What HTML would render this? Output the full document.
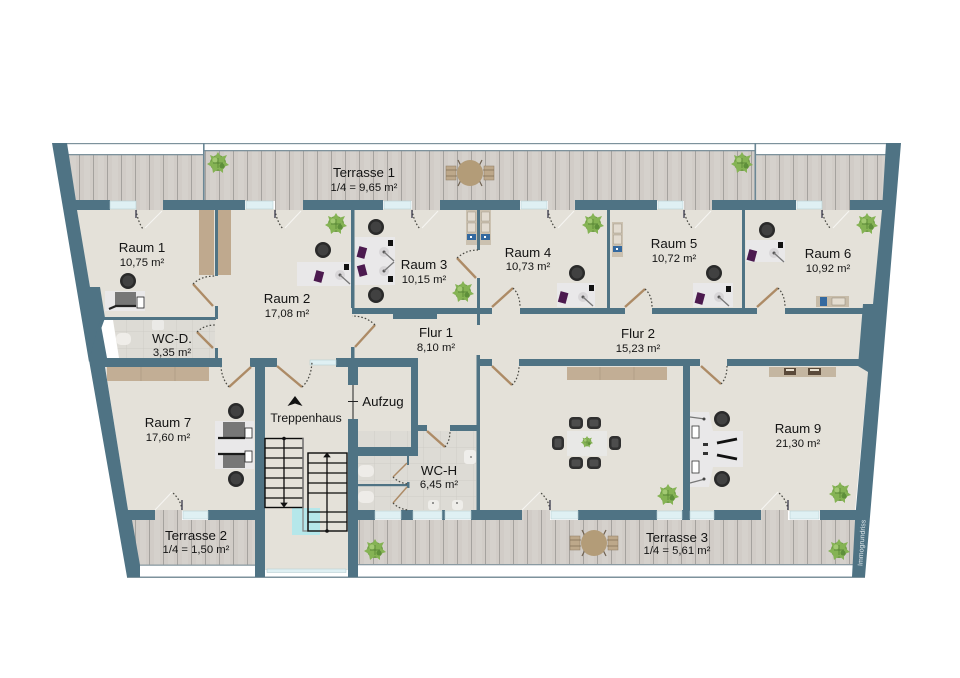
<!DOCTYPE html>
<html><head><meta charset="utf-8"><style>
html,body{margin:0;padding:0;background:#fff;width:960px;height:678px;overflow:hidden}
svg{display:block;filter:blur(.35px)}
text{font-family:"Liberation Sans",sans-serif;fill:#141414;text-anchor:middle}
.t{font-size:13.3px}.a{font-size:11.3px}
.w{fill:#4f7384}
.g{fill:#dff0f3;stroke:#b7cfd3;stroke-width:.6}
.d{stroke:#ad8b66;stroke-width:2.4;fill:none}
.e{stroke:#f6f5f2;stroke-width:1.1;fill:none}
.o{stroke:#45453f;stroke-width:1.2;stroke-dasharray:1.6 2;fill:none}
.s{stroke:#0c0c0c;stroke-width:1.3;fill:none}
</style></head><body>
<svg width="960" height="678" viewBox="0 0 960 678" xmlns="http://www.w3.org/2000/svg">
<defs>
<pattern id="pl" width="14" height="10" patternUnits="userSpaceOnUse" x="66" y="0">
<rect width="14" height="10" fill="#d1ccc7"/><rect x="4" width="6" height="10" fill="#d5d1cc"/><rect x="13" width="1" height="10" fill="#a5a29e"/>
</pattern>
<pattern id="ti" width="16.5" height="16.5" patternUnits="userSpaceOnUse" x="358" y="431">
<rect width="16.5" height="16.5" fill="#dddbd5"/><path d="M16.5 0V16.5H0" fill="none" stroke="#cbc9c3" stroke-width=".7"/>
</pattern>
<symbol id="plant" viewBox="-10 -10 20 20" width="20" height="20" overflow="visible">
<circle r="8" fill="#6f9d45"/><path d="M0-11 3-6 9-8 6-2 11 2 5 4 5 10 0 6-5 10-6 4-11 1-6-2-8-8-3-6Z" fill="#85b354"/><circle cx="-3" cy="-3" r="2.500" fill="#a2c972"/><circle cx="4" cy="3" r="2.500" fill="#5e8f3a"/><path d="M-5 0H5M0-5V5" stroke="#4f7c30" stroke-width=".7"/>
</symbol>
<symbol id="chair" viewBox="-9 -9 18 18" width="18" height="18" overflow="visible">
<circle r="8" fill="#2a2a2a"/><circle r="5.500" fill="#414141"/>
</symbol>
<symbol id="table" viewBox="-25 -15 50 30" width="50" height="30" overflow="visible">
<rect x="-24" y="-7" width="10" height="14" fill="#bda88a" stroke="#8d7a60" stroke-width=".5"/><rect x="14" y="-7" width="10" height="14" fill="#bda88a" stroke="#8d7a60" stroke-width=".5"/>
<path d="M-24-3H-13M-24 3H-13M13-3H24M13 3H24" stroke="#806d54" stroke-width=".8"/>
<path d="M-12-13-8-5M12-13 8-5M-12 13-8 5M12 13 8 5" stroke="#6f6150" stroke-width="1.2"/>
<circle r="13" fill="#b39c78"/>
</symbol>
<symbol id="lamp" viewBox="0 0 16 14" width="16" height="14" overflow="visible">
<circle cx="3" cy="3" r="5" fill="#d8d6d8"/><circle cx="3" cy="3" r="1.5" fill="#555"/><path d="M3 3 13 12" stroke="#777" stroke-width="1.3"/>
</symbol>
<symbol id="shelf" viewBox="0 0 11 35" width="11" height="35" overflow="visible">
<rect width="11" height="35" fill="#cbc1b0"/><rect x="1.5" y="2" width="8" height="9" fill="#e2dbd0" stroke="#a49a88" stroke-width=".5"/><rect x="1.5" y="13" width="8" height="9" fill="#e2dbd0" stroke="#a49a88" stroke-width=".5"/><rect x="1" y="24" width="9" height="6" fill="#34699f"/><rect x="4" y="26" width="2" height="2" fill="#fff"/>
</symbol>
<symbol id="chr" viewBox="-8 -7 16 14" width="16" height="14" overflow="visible">
<rect x="-7" y="-6" width="14" height="12" rx="4" fill="#303030"/><rect x="-4.5" y="-3.5" width="9" height="7" rx="2" fill="#4d4d4d"/>
</symbol>
</defs>

<rect width="960" height="678" fill="#fff"/>

<rect x="67" y="143" width="820" height="1.2" fill="#7d929c"/>
<rect x="127" y="576.5" width="738" height="1.5" fill="#7d929c"/>
<rect x="68" y="155" width="135" height="46" fill="url(#pl)"/>
<rect x="204" y="151" width="551" height="50" fill="url(#pl)"/>
<rect x="756" y="155" width="130" height="46" fill="url(#pl)"/>
<rect x="68" y="154" width="135" height="1.3" fill="#7d929c"/>
<rect x="204" y="150" width="551" height="1.3" fill="#7d929c"/>
<rect x="756" y="154" width="130" height="1.3" fill="#7d929c"/>
<rect x="203" y="143" width="1.6" height="58" fill="#6b8795"/>
<rect x="754.5" y="143" width="1.6" height="58" fill="#6b8795"/>
<rect x="132" y="520" width="123" height="45" fill="url(#pl)"/>
<rect x="358" y="520" width="497" height="44.5" fill="url(#pl)"/>
<rect x="132" y="564.5" width="123" height="1.3" fill="#8a9aa2"/>
<rect x="358" y="564" width="497" height="1.3" fill="#8a9aa2"/>

<polygon points="76,209 883,209 873,304 863,304 859,366 868,372 855,511 128,511 105,366 104,320 100,290 90,287" fill="#e4e1d9"/>
<rect x="265" y="366" width="83" height="204" fill="#e4e1d9"/>
<polygon points="113,320 215,320 215,358 119,358" fill="url(#ti)"/>
<rect x="358" y="431" width="118" height="79" fill="url(#ti)"/>
<polygon points="100,320 113,320 119,358 106,358" fill="#fff"/>

<g fill="url(#pl)">
<rect x="136" y="200" width="27" height="10"/><rect x="275" y="200" width="28" height="10"/><rect x="412" y="200" width="28" height="10"/><rect x="548" y="200" width="27" height="10"/><rect x="684" y="200" width="28" height="10"/><rect x="822" y="200" width="28" height="10"/>
<rect x="155" y="510" width="27" height="10"/><rect x="522" y="510" width="28" height="10"/><rect x="761" y="510" width="27" height="10"/>
</g>

<polygon class="w" points="52,143 67,143 76,201 77,210 90,287 100,287 105,318 89,362 52,143" />
<polygon class="w" points="89,360 100,320 107,358 105,367 128,510 132,520 140,565 140,577 127,577"/>
<polygon class="w" points="901,143 886,143 882,210 873,304 863,304 858,366 868,372 855,520 852,577 865,577"/>

<g class="w">
<rect x="74" y="200" width="36" height="10"/><rect x="163" y="200" width="82" height="10"/><rect x="303" y="200" width="80" height="10"/><rect x="440" y="200" width="80" height="10"/><rect x="575" y="200" width="82" height="10"/><rect x="712" y="200" width="84" height="10"/><rect x="850" y="200" width="34" height="10"/>
<rect x="215" y="210" width="3" height="66"/><rect x="215" y="306" width="3" height="13"/><rect x="215" y="348" width="3" height="11"/>
<rect x="351" y="210" width="3.5" height="98"/><rect x="351" y="347" width="3.5" height="12"/>
<rect x="477" y="210" width="3" height="40"/><rect x="477" y="278" width="3" height="47"/>
<rect x="607" y="210" width="3" height="98"/><rect x="742" y="210" width="3" height="98"/>
<rect x="352" y="308" width="140" height="6"/><rect x="393" y="314" width="44" height="5"/>
<rect x="520" y="308" width="105" height="6"/><rect x="652" y="308" width="105" height="6"/><rect x="785" y="308" width="78" height="6"/>
<rect x="103" y="317" width="113" height="3"/>
<rect x="105" y="358" width="117" height="9"/><rect x="250" y="358" width="27" height="9"/><rect x="336" y="358" width="82" height="9"/>
<rect x="479" y="359" width="13" height="7"/><rect x="519" y="359" width="181" height="7"/><rect x="727" y="359" width="132" height="7"/>
<rect x="255" y="358" width="10" height="219"/><rect x="348" y="358" width="10" height="27"/><rect x="348" y="419" width="10" height="158"/>
<rect x="411" y="358" width="7" height="98"/><rect x="348" y="447" width="70" height="9"/>
<rect x="411" y="425" width="16" height="6"/><rect x="450" y="425" width="28" height="6"/>
<rect x="476.500" y="355" width="3.500" height="155"/>
<rect x="358" y="484" width="50" height="2.200"/><rect x="407" y="456" width="2" height="9"/><rect x="407" y="482" width="2.500" height="6"/>
<rect x="683" y="366" width="7" height="144"/>
<rect x="128" y="510" width="27" height="10"/><rect x="208" y="510" width="47" height="10"/>
<rect x="358" y="510" width="17" height="10"/><rect x="401" y="510" width="12" height="10"/><rect x="442" y="510" width="3" height="10"/><rect x="471" y="510" width="51" height="10"/>
<rect x="578" y="510" width="79" height="10"/><rect x="682" y="510" width="8" height="10"/><rect x="714" y="510" width="47" height="10"/><rect x="820" y="510" width="36" height="10"/>
</g>
<g class="g">
<rect x="110" y="201" width="26" height="8"/><rect x="246" y="201" width="27" height="8"/><rect x="384" y="201" width="27" height="8"/><rect x="521" y="201" width="26" height="8"/><rect x="658" y="201" width="25" height="8"/><rect x="797" y="201" width="25" height="8"/>
<rect x="310" y="360" width="26" height="5"/>
<rect x="183" y="511" width="25" height="8"/><rect x="375" y="511" width="26" height="8"/><rect x="413" y="511" width="29" height="8"/><rect x="445" y="511" width="26" height="8"/><rect x="551" y="511" width="27" height="8"/><rect x="657" y="511" width="25" height="8"/><rect x="690" y="511" width="24" height="8"/><rect x="790" y="511" width="29" height="8"/>
<rect x="267" y="569" width="79" height="3.500"/>
</g>

<g class="d">
<path d="M213 306 193 284"/><path d="M213 348 197 332"/><path d="M476 278 457 258"/><path d="M355 347 375 325"/><path d="M492 307 513 288"/><path d="M625 307 645 289"/><path d="M757 307 778 288"/><path d="M251 367 229 387"/><path d="M277 366 302 387"/><path d="M492 366 512 385"/><path d="M701 366 721 384"/><path d="M427 431 445 447"/><path d="M407 463 393 477" stroke-width="1.500"/><path d="M407 487 393 503" stroke-width="1.500"/>
</g>
<g class="o">
<path d="M193 284Q201 276 215 276"/><path d="M197 332Q204 325 215 325"/><path d="M457 258Q466 250 478 250"/><path d="M375 325Q366 316 352 316"/><path d="M513 288Q520 295 520 307"/><path d="M645 289Q652 295 652 307"/><path d="M778 288Q785 295 785 307"/><path d="M229 387Q222 379 221 367"/><path d="M302 387Q311 379 312 362"/><path d="M512 385Q519 378 519 366"/><path d="M721 384Q727 378 727 366"/><path d="M445 447Q450 441 450 431"/><path d="M393 477Q399 483 408 484"/><path d="M393 503Q399 509 408 510"/>
<path d="M136 210Q138 222 143 229"/><path d="M275 210Q277 222 283 229"/><path d="M412 210Q414 222 420 229"/><path d="M548 210Q550 222 556 229"/><path d="M684 210Q686 222 693 229"/><path d="M822 210Q824 222 831 229"/>
<path d="M182 510Q181 500 172 492"/><path d="M550 510Q549 500 540 492"/><path d="M788 510Q787 500 778 492"/>
</g>
<g class="e">
<path d="M162 211 145 228"/><path d="M301 211 285 228"/><path d="M438 211 422 228"/><path d="M574 211 558 228"/><path d="M711 211 695 228"/><path d="M849 211 833 228"/>
<path d="M155 510 172 492"/><path d="M522 510 540 492"/><path d="M761 510 778 492"/>
</g>
<g stroke="#445" stroke-width="1.400"><path d="M136 210V218M275 210V218M412 210V218M548 210V218M684 210V218M822 210V218M182 500V510M550 500V510M788 500V510"/></g>

<rect x="199" y="210" width="15" height="65" fill="#bfa98e"/><rect x="218" y="210" width="13" height="65" fill="#bfa98e"/>
<rect x="107" y="367" width="102" height="14" fill="#c2ae95"/><path d="M141 367V381M175 367V381" stroke="#ac9a82" stroke-width=".7"/>
<rect x="567" y="367" width="100" height="13" fill="#c2ae95"/><path d="M600 367V380M634 367V380" stroke="#ac9a82" stroke-width=".7"/>
<rect x="769" y="367" width="67" height="10" fill="#c4b6a1"/>
<rect x="784" y="368" width="12" height="7" fill="#5a4a3a"/><rect x="808" y="368" width="13" height="7" fill="#5a4a3a"/><rect x="786" y="369" width="8" height="2" fill="#e8e0d0"/><rect x="810" y="369" width="9" height="2" fill="#e8e0d0"/>
<use href="#shelf" x="466" y="210"/><use href="#shelf" x="480" y="210"/><use href="#shelf" x="612" y="222"/>
<rect x="816" y="296" width="33" height="11" fill="#c7bca9"/><rect x="820" y="297" width="7" height="9" fill="#34699f"/><rect x="832" y="298" width="13" height="7" fill="#e4ddd0" stroke="#8f8678" stroke-width=".5"/>

<g fill="#e9e8e9">
<rect x="105" y="291" width="40" height="20"/><rect x="297" y="262" width="54" height="24"/><rect x="355" y="237" width="40" height="48"/><rect x="557" y="283" width="38" height="24"/><rect x="693" y="283" width="40" height="24"/><rect x="746" y="240" width="39" height="22"/>
<rect x="215" y="421" width="39" height="48"/>
<path d="M690 412H709L713 431H743V467H713L709 487H690Z"/>
<rect x="567" y="431" width="40" height="25" fill="#e8e8e6"/>
</g>
<rect x="115" y="292" width="21" height="14" fill="#777"/><rect x="137" y="297" width="7" height="11" fill="#fff" stroke="#222" stroke-width=".8"/><path d="M109 309 116 306 136 306" stroke="#222" stroke-width="2.200" fill="none"/>
<g fill="#4c1a4f">
<rect x="315" y="271" width="8" height="11" transform="rotate(15 319 276)"/><rect x="358" y="247" width="8" height="11" transform="rotate(15 362 252)"/><rect x="358" y="265" width="8" height="11" transform="rotate(-15 362 270)"/><rect x="559" y="292" width="8" height="11" transform="rotate(15 563 298)"/><rect x="696" y="293" width="8" height="11" transform="rotate(15 700 298)"/><rect x="748" y="250" width="8" height="11" transform="rotate(15 752 255)"/>
</g>
<g fill="#111"><rect x="344" y="264" width="5" height="6"/><rect x="388" y="240" width="5" height="6"/><rect x="388" y="276" width="5" height="6"/><rect x="589" y="285" width="5" height="6"/><rect x="726" y="286" width="5" height="6"/><rect x="778" y="242" width="5" height="6"/></g>
<use href="#lamp" x="337" y="272"/><use href="#lamp" x="580" y="294"/><use href="#lamp" x="716" y="294"/><use href="#lamp" x="771" y="250"/><use href="#lamp" x="381" y="249"/>
<g transform="translate(381 274) scale(1 -1)"><use href="#lamp"/></g>
<rect x="223" y="422" width="22" height="16" fill="#777"/><rect x="223" y="453" width="22" height="15" fill="#777"/><rect x="245" y="428" width="7" height="10" fill="#fff" stroke="#222" stroke-width=".8"/><rect x="245" y="451" width="7" height="11" fill="#fff" stroke="#222" stroke-width=".8"/>
<path d="M218 438H245M218 454H245" stroke="#1a1a1a" stroke-width="2.200"/>
<rect x="692" y="426" width="7" height="12" fill="#fff" stroke="#333" stroke-width=".8"/><rect x="692" y="461" width="7" height="12" fill="#fff" stroke="#333" stroke-width=".8"/>
<path d="M717 443 737 439M717 455 737 459" stroke="#111" stroke-width="2.800"/><rect x="703" y="443" width="5" height="3" fill="#333"/><rect x="703" y="452" width="5" height="3" fill="#333"/>
<path d="M690 417 705 419M690 483 705 479" stroke="#777" stroke-width="1.200"/><circle cx="704" cy="419" r="1.500" fill="#444"/><circle cx="704" cy="479" r="1.500" fill="#444"/>

<use href="#chair" x="119" y="272"/><use href="#chair" x="314" y="241"/><use href="#chair" x="367" y="218"/><use href="#chair" x="367" y="286"/><use href="#chair" x="568" y="264"/><use href="#chair" x="705" y="264"/><use href="#chair" x="758" y="221"/><use href="#chair" x="227" y="402"/><use href="#chair" x="227" y="470"/><use href="#chair" x="713" y="410"/><use href="#chair" x="713" y="470"/>
<use href="#chr" x="568" y="416"/><use href="#chr" x="586" y="416"/><use href="#chr" x="568" y="456"/><use href="#chr" x="586" y="456"/><use href="#chr" transform="rotate(90 558 443)" x="550" y="436"/><use href="#chr" transform="rotate(90 615 443)" x="607" y="436"/>
<use href="#plant" x="208" y="153"/><use href="#plant" x="732" y="153"/><use href="#plant" x="326" y="214"/><use href="#plant" x="453" y="282"/><use href="#plant" x="583" y="214"/><use href="#plant" x="857" y="214"/><use href="#plant" x="658" y="485"/><use href="#plant" x="830" y="483"/><use href="#plant" x="365" y="540"/><use href="#plant" x="829" y="540"/>
<g transform="translate(587 442) scale(.55)"><use href="#plant" x="-10" y="-10"/></g>
<use href="#table" x="445" y="158"/><use href="#table" x="569" y="528"/>

<rect x="116" y="333" width="15" height="12" rx="5" fill="#efede9"/><rect x="152" y="320" width="12" height="10" rx="2" fill="#ebeae7"/>
<rect x="358" y="465" width="16" height="12" rx="5" fill="#eeece8"/><rect x="358" y="491" width="16" height="12" rx="5" fill="#eeece8"/>
<rect x="464" y="450" width="12" height="14" rx="3" fill="#efeeeb"/><circle cx="471" cy="457" r="1" fill="#888"/>
<rect x="428" y="500" width="11" height="10" rx="3" fill="#eeede9"/><rect x="452" y="500" width="11" height="10" rx="3" fill="#eeede9"/><circle cx="433" cy="503" r="1" fill="#777"/><circle cx="457" cy="503" r="1" fill="#777"/>

<rect x="292" y="508" width="28" height="27" fill="#a9e9ee" opacity=".8"/>
<g class="s">
<rect x="265" y="438.500" width="38" height="69" stroke-width="1.400"/>
<path d="M265 448H303M265 458H303M265 468H303M265 478H303M265 488H303M265 498H303"/>
<path d="M303 438V531H308M308 453V531" stroke="#888"/>
<rect x="308" y="453" width="39" height="78" stroke-width="1.400"/>
<path d="M308 463H347M308 473H347M308 483H347M308 493H347M308 512H347M308 522H347"/>
<path d="M284 438V503M327 531V456" stroke-width="1.300"/>
</g>
<circle cx="284" cy="438.500" r="1.800" fill="#111"/><circle cx="327" cy="531" r="1.800" fill="#111"/>
<polygon points="281,503 287,503 284,507" fill="#111" stroke="#111" stroke-width=".8"/><polygon points="324,457 330,457 327,453" fill="#111" stroke="#111" stroke-width=".8"/>
<polygon points="295,396 287.500,406 295,403.500 302.500,406" fill="#111"/>
<path d="M353 385V419" stroke="#222" stroke-width="1"/><path d="M348 401.500H358" stroke="#222" stroke-width="1"/>

<text class="t" x="142" y="252">Raum 1</text><text class="a" x="142" y="266">10,75 m²</text>
<text class="t" x="287" y="303">Raum 2</text><text class="a" x="287" y="317">17,08 m²</text>
<text class="t" x="172" y="343">WC-D.</text><text class="a" x="172" y="356">3,35 m²</text>
<text class="t" x="364" y="177">Terrasse 1</text><text class="a" x="364" y="191">1/4 = 9,65 m²</text>
<text class="t" x="424" y="269">Raum 3</text><text class="a" x="424" y="283">10,15 m²</text>
<text class="t" x="528" y="257">Raum 4</text><text class="a" x="528" y="270">10,73 m²</text>
<text class="t" x="674" y="248">Raum 5</text><text class="a" x="674" y="262">10,72 m²</text>
<text class="t" x="828" y="258">Raum 6</text><text class="a" x="828" y="272">10,92 m²</text>
<text class="t" x="436" y="337">Flur 1</text><text class="a" x="436" y="351">8,10 m²</text>
<text class="t" x="638" y="338">Flur 2</text><text class="a" x="638" y="352">15,23 m²</text>
<text class="t" x="168" y="427">Raum 7</text><text class="a" x="168" y="441">17,60 m²</text>
<text class="t" x="306" y="422" style="font-size:12.2px">Treppenhaus</text>
<text class="t" x="383" y="406">Aufzug</text>
<text class="t" x="196" y="540">Terrasse 2</text><text class="a" x="196" y="553">1/4 = 1,50 m²</text>
<text class="t" x="439" y="475">WC-H</text><text class="a" x="439" y="488">6,45 m²</text>
<text class="t" x="677" y="542">Terrasse 3</text><text class="a" x="677" y="554">1/4 = 5,61 m²</text>
<text class="t" x="798" y="433">Raum 9</text><text class="a" x="798" y="447">21,30 m²</text>
<text x="0" y="0" transform="translate(864 543) rotate(-86)" style="font-size:7px;fill:#dfe7ea">Immogrundriss</text>
</svg>
</body></html>
